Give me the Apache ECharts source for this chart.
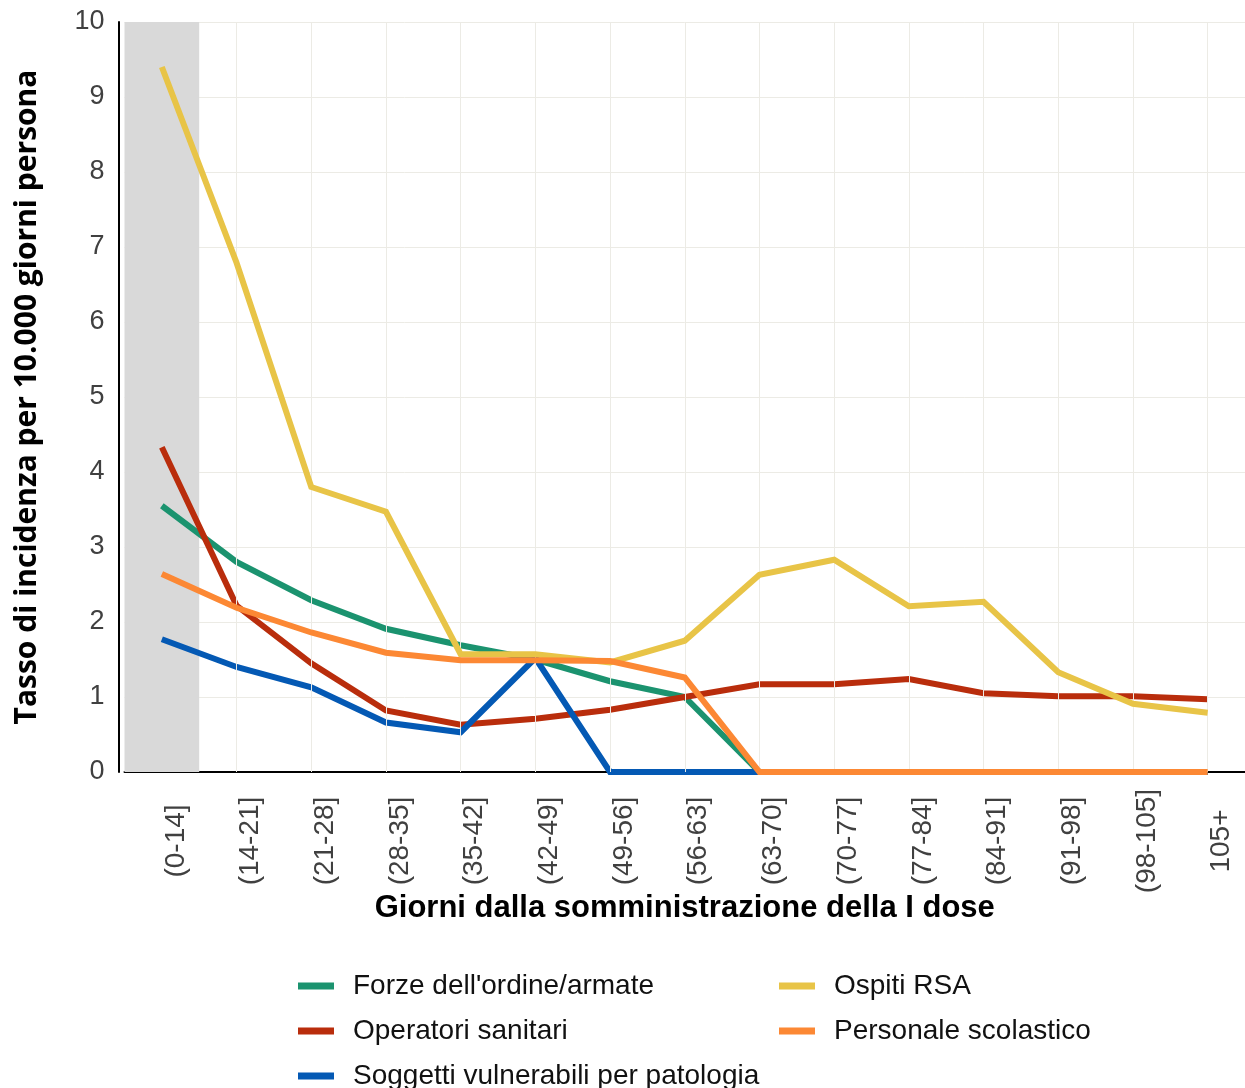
<!DOCTYPE html>
<html>
<head>
<meta charset="utf-8">
<script src="https://cdn.jsdelivr.net/npm/echarts@6/dist/echarts.min.js"></script>
<style>
html,body{margin:0;padding:0;background:#fff;}
#chart{width:1245px;height:1088px;}
</style>
</head>
<body>
<div id="chart"></div>
<script>
const categories = ['(0-14]','(14-21]','(21-28]','(28-35]','(35-42]','(42-49]','(49-56]','(56-63]','(63-70]','(70-77]','(77-84]','(84-91]','(91-98]','(98-105]','105+'];
const forze      = [3.55, 2.80, 2.29, 1.91, 1.69, 1.50, 1.21, 1.00, 0, 0, 0, 0, 0, 0, 0];
const operatori  = [4.33, 2.22, 1.45, 0.82, 0.63, 0.71, 0.83, 1.00, 1.17, 1.17, 1.24, 1.05, 1.01, 1.01, 0.97];
const soggetti   = [1.77, 1.40, 1.13, 0.66, 0.53, 1.52, 0, 0, 0, 0, 0, 0, 0, 0, 0];
const ospiti     = [9.40, 6.79, 3.80, 3.47, 1.57, 1.57, 1.46, 1.75, 2.63, 2.83, 2.21, 2.27, 1.33, 0.91, 0.79];
const personale  = [2.64, 2.19, 1.86, 1.59, 1.49, 1.49, 1.48, 1.26, 0, 0, 0, 0, 0, 0, 0];
const shadedCategory = '(0-14]';
const yMax = 10;
const yTicks = [0,1,2,3,4,5,6,7,8,9,10];

const seriesDefs = [
  {name: "Forze dell'ordine/armate", data: forze, color: '#1b936f'},
  {name: 'Operatori sanitari', data: operatori, color: '#b92d0c'},
  {name: 'Soggetti vulnerabili per patologia', data: soggetti, color: '#0459b4'},
  {name: 'Ospiti RSA', data: ospiti, color: '#e8c447'},
  {name: 'Personale scolastico', data: personale, color: '#fc8834'}
];

const chart = echarts.init(document.getElementById('chart'), null, {renderer: 'canvas'});
const gridColor = '#ecebe5';
const legendText = {fontFamily: 'Liberation Sans', fontSize: 28, lineHeight: 28, color: '#111', padding: [0,0,0,14]};

const option = {
  backgroundColor: '#ffffff',
  animation: false,
  grid: {left: 124.5, top: 22, width: 1125, height: 750, containLabel: false},
  xAxis: {
    type: 'category',
    data: categories,
    boundaryGap: true,
    name: 'Giorni dalla somministrazione della I dose',
    nameLocation: 'middle',
    nameGap: 121,
    nameMoveOverlap: false,
    nameTextStyle: {fontFamily: 'Liberation Sans', fontWeight: 'bold', fontSize: 31, color: '#000', verticalAlign: 'top'},
    axisLine: {show: true, lineStyle: {color: '#000', width: 2}},
    axisTick: {show: false},
    splitLine: {show: false},
    axisLabel: {
      rotate: 90, interval: 0, margin: 69,
      align: 'center', verticalAlign: 'top',
      fontFamily: 'Liberation Sans', fontSize: 28, color: '#404040'
    }
  },
  yAxis: {
    type: 'value',
    min: 0, max: yMax, interval: 1,
    offset: 6,
    name: 'Tasso di incidenza per 10.000 giorni persona',
    nameLocation: 'middle',
    nameGap: 76,
    nameMoveOverlap: false,
    nameTextStyle: {fontFamily: 'Open Sans', fontWeight: 'bold', fontSize: 30, color: '#000'},
    axisLine: {show: true, lineStyle: {color: '#000', width: 2}},
    axisTick: {show: false},
    splitLine: {show: true, lineStyle: {color: gridColor, width: 1}},
    axisLabel: {margin: 14, fontFamily: 'Liberation Sans', fontSize: 27, color: '#404040',
      formatter: v => yTicks.includes(v) ? String(v) : ''}
  },
  legend: [
    {
      data: [seriesDefs[0].name, seriesDefs[1].name, seriesDefs[2].name],
      orient: 'vertical', left: 298, top: 972, height: 160, padding: 0,
      icon: 'rect', itemWidth: 36, itemHeight: 7, itemGap: 17,
      textStyle: legendText
    },
    {
      data: [seriesDefs[3].name, seriesDefs[4].name],
      orient: 'vertical', left: 779, top: 972, height: 160, padding: 0,
      icon: 'rect', itemWidth: 36, itemHeight: 7, itemGap: 17,
      textStyle: legendText
    }
  ],
  series: [
    {
      type: 'bar',
      name: 'shade',
      data: categories.map(c => c === shadedCategory ? yMax : null),
      barCategoryGap: '0%',
      itemStyle: {color: '#d9d9d9'},
      silent: true,
      z: 1,
      markLine: {
        silent: true,
        symbol: ['none', 'none'],
        label: {show: false},
        lineStyle: {color: gridColor, width: 1, type: 'solid'},
        emphasis: {disabled: true},
        data: categories.filter(c => c !== shadedCategory).map(c => ({xAxis: c}))
      }
    }
  ].concat(seriesDefs.map((s, i) => ({
    type: 'line',
    name: s.name,
    data: s.data,
    symbol: 'none',
    z: 2 + i,
    color: s.color,
    lineStyle: {color: s.color, width: 6, join: 'miter'},
    emphasis: {disabled: true}
  })))
};
chart.setOption(option);
</script>
</body>
</html>
